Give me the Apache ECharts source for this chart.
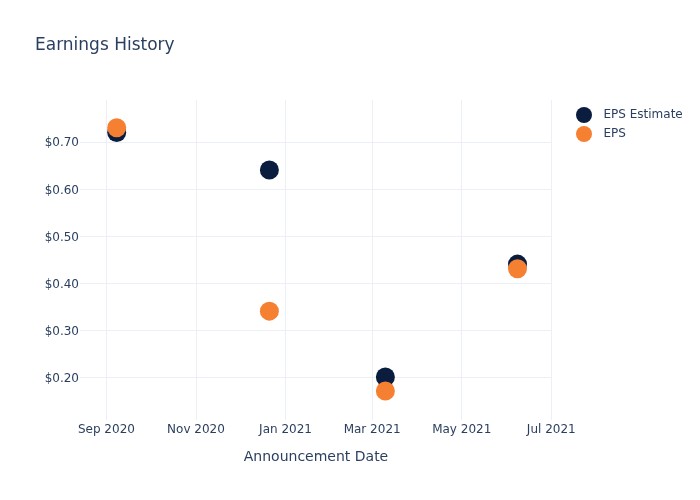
<!DOCTYPE html>
<html>
<head>
<meta charset="utf-8">
<script src="https://cdn.jsdelivr.net/npm/echarts@6/dist/echarts.min.js"></script>
<style>html,body{margin:0;padding:0;background:#fff}#c{width:700px;height:500px}</style>
</head>
<body>
<div id="c"></div>
<script>
const dates = ['2020-09-08', '2020-12-21', '2021-03-10', '2021-06-08'];
const epsEstimate = [0.72, 0.64, 0.20, 0.44];
const eps = [0.73, 0.34, 0.17, 0.43];
const xTicks = ['2020-09-01', '2020-11-01', '2021-01-01', '2021-03-01', '2021-05-01', '2021-07-01'];
const yTicks = [0.20, 0.30, 0.40, 0.50, 0.60, 0.70];

const txt = '#2a3f5f';
const font = 'DejaVu Sans, Open Sans, sans-serif';
const MON = ['Jan','Feb','Mar','Apr','May','Jun','Jul','Aug','Sep','Oct','Nov','Dec'];
const tickTs = xTicks.map(d => new Date(d + 'T00:00:00').getTime());
const xMin = new Date('2020-08-14T00:00:00').getTime();

const chart = echarts.init(document.getElementById('c'), null, {renderer: 'canvas'});
chart.setOption({
  backgroundColor: '#fff',
  animation: false,
  title: {
    text: 'Earnings History', left: 30, top: 32,
    textStyle: {color: txt, fontSize: 17, fontWeight: 'normal', fontFamily: font}
  },
  legend: {
    orient: 'vertical', left: 571, top: 102, itemGap: 3,
    itemWidth: 29, itemHeight: 16, icon: 'circle',
    textStyle: {color: txt, fontSize: 12, fontFamily: font},
    data: ['EPS Estimate', 'EPS']
  },
  grid: {left: 80, right: 148, top: 100, bottom: 80, containLabel: false},
  xAxis: {
    type: 'time',
    min: xMin,
    max: new Date('2021-07-01T12:00:00').getTime(),
    name: 'Announcement Date', nameLocation: 'middle', nameGap: 30,
    nameTextStyle: {color: txt, fontSize: 14, fontFamily: font},
    axisLine: {show: false}, axisTick: {show: false},
    axisLabel: {show: false},
    splitLine: {show: false}
  },
  yAxis: {
    type: 'value', min: 0.1085, max: 0.789,
    axisLine: {show: false}, axisTick: {show: false},
    axisLabel: {show: false},
    splitLine: {show: false}
  },
  series: [
    {
      name: 'EPS Estimate', type: 'scatter', symbolSize: 19, z: 3,
      itemStyle: {color: '#0b1d3f', opacity: 1},
      data: dates.map((d, i) => [d, epsEstimate[i]]),
      markLine: {
        silent: true, symbol: 'none', z: 1,
        lineStyle: {color: '#ebf0f8', width: 1, type: 'solid', opacity: 1},
        label: {show: false},
        data: tickTs.map(t => ({xAxis: t})).concat(yTicks.map(v => ({yAxis: v})))
      }
    },
    {
      name: 'EPS', type: 'scatter', symbolSize: 19, z: 4,
      itemStyle: {color: '#f58032', opacity: 1},
      data: dates.map((d, i) => [d, eps[i]])
    },
    {
      name: 'xlabels', type: 'scatter', symbolSize: 0, silent: true,
      itemStyle: {opacity: 1},
      data: tickTs.map(t => [t, 0.1085]),
      label: {
        show: true, position: 'bottom', distance: 4, color: txt, fontSize: 12, fontFamily: font,
        formatter: p => { const d = new Date(p.value[0]); return MON[d.getMonth()] + ' ' + d.getFullYear(); }
      }
    },
    {
      name: 'ylabels', type: 'scatter', symbolSize: 0, silent: true,
      itemStyle: {opacity: 1},
      data: yTicks.map(v => [xMin, v]),
      label: {
        show: true, position: 'left', distance: 1, offset: [0, 1.5], color: txt, fontSize: 12, fontFamily: font,
        formatter: p => '$' + p.value[1].toFixed(2)
      }
    }
  ]
});
</script>
</body>
</html>
